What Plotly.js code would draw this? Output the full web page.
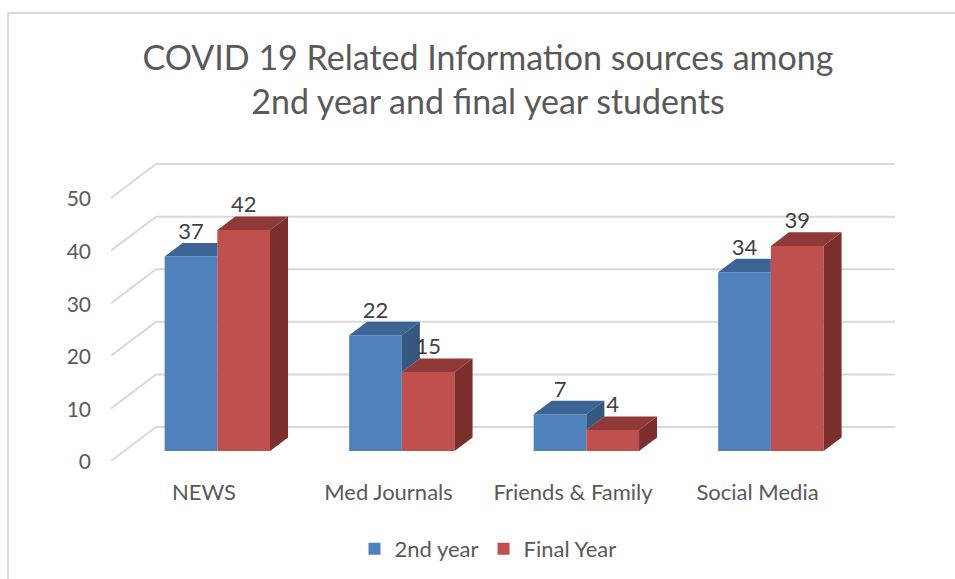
<!DOCTYPE html>
<html><head><meta charset="utf-8">
<script src="https://cdn.plot.ly/plotly-3.0.1.min.js"></script>
<style>html,body{margin:0;padding:0;background:#fff;overflow:hidden}#c{width:955px;height:579px}</style>
</head><body><div id="c"></div>
<script>
const categories = ["NEWS","Med Journals","Friends & Family","Social Media"];
const secondYear = [37,22,7,34];
const finalYear = [42,15,4,39];
const valueTicks = [0,10,20,30,40,50];

const W=955,H=579,ml=111,mr=60,mt=150,mb=104;
const xRange=[-0.504,3.745], yRange=[-2.66,59.13];
const floorDX=0.2439, floorDY=6.46;   // wall offset
const barDX=0.0976, barDY=2.57;       // bar depth
const barBase=1.9, barW=0.2856;
const blueX=-0.0705, redX=0.2151;
const labelLift=4.4;
const fontFam='Lato, Carlito, sans-serif';

const idx=categories.map((_,i)=>i);
const xb=idx.map(i=>i+blueX), xr=idx.map(i=>i+redX);

function polys(list){const x=[],y=[];list.forEach(p=>{p.forEach(q=>{x.push(q[0]);y.push(q[1]);});x.push(null);y.push(null);});return {x,y};}
function face(list,color){const p=polys(list);return {type:'scatter',mode:'lines',x:p.x,y:p.y,fill:'toself',fillcolor:color,line:{width:0,color:color},showlegend:false,hoverinfo:'skip'};}

const blueSide=[],blueTop=[],redSide=[],redTop=[];
idx.forEach(i=>{
  const a=secondYear[i]+barBase,b=finalYear[i]+barBase;
  const l=xb[i]-barW/2,m=xb[i]+barW/2,r=xr[i]+barW/2;
  if(b<a){
    blueSide.push([[m,a],[m+barDX,a+barDY],[m+barDX,b+barDY],[m,b]]);
    blueTop.push([[l,a],[l+barDX,a+barDY],[m+barDX,a+barDY],[m,a]]);
  } else {
    blueTop.push([[l,a],[l+barDX,a+barDY],[m,a+barDY],[m,a]]);
  }
  redSide.push([[r,b],[r+barDX,b+barDY],[r+barDX,barBase+barDY],[r,barBase]]);
  redTop.push([[m,b],[m+barDX,b+barDY],[r+barDX,b+barDY],[r,b]]);
});

const data=[
 {type:'bar',name:'2nd year',x:xb,y:secondYear,base:barBase,width:barW,marker:{color:'#4F81BD'},hoverinfo:'skip'},
 {type:'bar',name:'Final Year',x:xr,y:finalYear,base:barBase,width:barW,marker:{color:'#C0504D'},hoverinfo:'skip'},
 face(blueSide,'#34587F'),
 face(blueTop,'#3C6494'),
 face(redSide,'#7A2F2D'),
 face(redTop,'#8F3A38'),
 {type:'scatter',mode:'text',x:xb.concat(xr),y:secondYear.concat(finalYear).map(v=>v+barBase+labelLift),
  text:secondYear.concat(finalYear).map(String),textposition:'middle center',cliponaxis:false,
  textfont:{family:fontFam,size:22,color:'#404040'},showlegend:false,hoverinfo:'skip'}
];

const grid='#D9D9D9';
const shapes=valueTicks.map(v=>({type:'path',layer:'below',xref:'x',yref:'y',
  path:`M ${xRange[0]},${v} L ${xRange[0]+floorDX},${v+floorDY} L ${xRange[1]},${v+floorDY}`,
  line:{color:grid,width:2}}));
const px=v=>(v-ml)/(W-ml-mr), py=v=>(H-mb-v)/(H-mt-mb);
shapes.push({type:'line',xref:'paper',yref:'paper',x0:px(8),x1:px(955),y0:py(13),y1:py(13),line:{color:grid,width:2}});
shapes.push({type:'line',xref:'paper',yref:'paper',x0:px(8),x1:px(8),y0:py(13),y1:py(579),line:{color:grid,width:2}});

const layout={width:W,height:H,margin:{l:ml,r:mr,t:mt,b:mb,autoexpand:false},paper_bgcolor:'#fff',plot_bgcolor:'rgba(0,0,0,0)',
 barmode:'overlay',
 title:{text:'COVID 19 Related Information sources among<br>2nd year and final year students',
   x:488/W,xanchor:'center',y:1-69.5/H,yanchor:'middle',font:{family:fontFam,size:34,color:'#595959'}},
 xaxis:{range:xRange,tickvals:idx,ticktext:categories,showgrid:false,zeroline:false,showline:false,ticks:'',
   tickfont:{family:fontFam,size:22,color:'#595959'},ticklabelstandoff:2},
 yaxis:{range:yRange,tickvals:valueTicks,ticktext:valueTicks.map(String),showgrid:false,zeroline:false,showline:false,ticks:'',
   tickfont:{family:fontFam,size:21,color:'#595959'},ticklabelstandoff:19,ticklabelshift:1},
 legend:{orientation:'h',x:px(488),xanchor:'center',y:py(549),yanchor:'middle',font:{family:fontFam,size:22,color:'#595959'},bgcolor:'rgba(0,0,0,0)',traceorder:'normal'},
 shapes:shapes,showlegend:true
};
Plotly.newPlot('c',data,layout,{displayModeBar:false,staticPlot:true});
</script></body></html>
